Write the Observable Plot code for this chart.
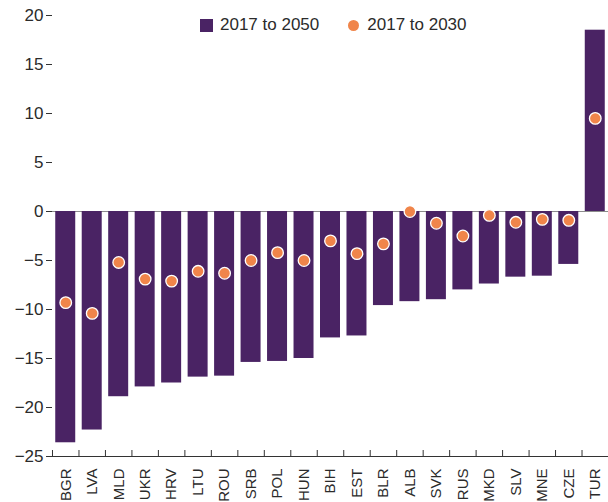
<!DOCTYPE html>
<html><head><meta charset="utf-8">
<script src="https://cdn.jsdelivr.net/npm/d3@7"></script>
<script src="https://cdn.jsdelivr.net/npm/@observablehq/plot@0.6"></script>
<style>
body{margin:0;background:#fff;}
#wrap{position:relative;width:608px;height:502px;font-family:"Liberation Sans",Arial,sans-serif;color:#2b2b2b;}
#legend{position:absolute;top:15px;left:200px;font-size:17px;line-height:20px;display:flex;align-items:center;white-space:nowrap;}
#legend .sq{display:inline-block;width:13px;height:13px;background:#4a2364;margin-right:7px;}
#legend .dt{display:inline-block;width:11px;height:11px;border-radius:50%;background:#f0854a;margin-left:29px;margin-right:8px;}
</style></head><body>
<div id="wrap"><div id="legend"></div></div>
<script>
const countries = ["BGR","LVA","MLD","UKR","HRV","LTU","ROU","SRB","POL","HUN","BIH","EST","BLR","ALB","SVK","RUS","MKD","SLV","MNE","CZE","TUR"];
const change2050 = [-23.6,-22.3,-18.9,-17.9,-17.5,-16.9,-16.8,-15.4,-15.3,-15.0,-12.9,-12.7,-9.6,-9.2,-9.0,-8.0,-7.4,-6.7,-6.6,-5.4,18.5];
const change2030 = [-9.3,-10.4,-5.2,-6.9,-7.1,-6.1,-6.3,-5.0,-4.2,-5.0,-3.0,-4.3,-3.3,0.0,-1.2,-2.5,-0.4,-1.1,-0.8,-0.9,9.5];
const yTicks = [-25,-20,-15,-10,-5,0,5,10,15,20];
const seriesLabels = ["2017 to 2050","2017 to 2030"];
const colors = ["#4a2364","#f0854a"];

const data = countries.map((c,i)=>({country:c, v2050:change2050[i], v2030:change2030[i]}));

const legend = document.getElementById("legend");
legend.innerHTML = `<span class="sq"></span><span>${seriesLabels[0]}</span><span class="dt"></span><span>${seriesLabels[1]}</span>`;

const chart = Plot.plot({
  width: 608, height: 502,
  marginTop: 15, marginBottom: 46, marginLeft: 52, marginRight: 0,
  style: {fontFamily: '"Liberation Sans", Arial, sans-serif', fontSize: "17px", color: "#2b2b2b", background: "transparent"},
  x: {domain: countries, paddingInner: 0.245, paddingOuter: 0.1225, align: 0.5, round: false, label: null},
  y: {domain: [-25, 20], label: null},
  marks: [
    Plot.ruleY([0], {stroke: "#8c8c8c", strokeWidth: 1.2, insetLeft: -6}),
    Plot.barY(data, {x: "country", y: "v2050", fill: colors[0]}),
    Plot.dot(data, {x: "country", y: "v2030", r: 5.8, fill: colors[1], stroke: "#fff", strokeWidth: 1.3}),
    Plot.ruleY([-25], {stroke: "#333", strokeWidth: 1.2, insetLeft: -6}),
    Plot.ruleX(countries, {x: d => d, y1: -25, y2: -25, insetTop: -6, dx: -13.24, stroke: "#333"}),
    Plot.axisY({ticks: yTicks, tickSize: 6, tickPadding: 3, fontSize: 17, label: null, stroke: "#333"}),
    Plot.axisX({tickSize: 0, tickRotate: -90, tickPadding: 12, fontSize: 15, label: null})
  ]
});
document.getElementById("wrap").appendChild(chart);
</script>
</body></html>
